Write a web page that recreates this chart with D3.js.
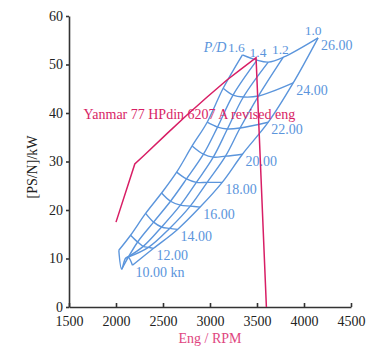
<!DOCTYPE html>
<html>
<head>
<meta charset="utf-8">
<script src="https://cdn.jsdelivr.net/npm/d3@7"></script>
<style>
  body { margin: 0; background: #fff; }
  text { font-family: "Liberation Serif", "DejaVu Serif", serif; }
</style>
</head>
<body>
<div id="canvas"></div>
<script>
// ship speeds (kn) and propeller pitch ratios
const speeds = [10, 12, 14, 16, 18, 20, 22, 24, 26];
const pdValues = [1.6, 1.4, 1.3, 1.2, 1.0];
const pdLabels = ["1.6", "1.4", "", "1.2", "1.0"];

// engine rpm at each speed (rows) for each P/D (columns)
const rpmGrid = [
  [2030, 2060, 2100, 2130, 2175],
  [2155, 2230, 2290, 2345, 2400],
  [2315, 2400, 2485, 2570, 2655],
  [2485, 2580, 2685, 2790, 2895],
  [2645, 2750, 2855, 2970, 3130],
  [2810, 2930, 3035, 3165, 3345],
  [2970, 3080, 3185, 3320, 3620],
  [3140, 3245, 3355, 3515, 3885],
  [3345, 3500, 3620, 3780, 4150]
];
// required power (kW) at the same grid
const powerGrid = [
  [11.7, 7.8, 10.0, 10.3, 8.6],
  [14.8, 13.4, 12.5, 12.3, 12.1],
  [19.3, 17.5, 16.5, 16.2, 16.0],
  [23.5, 21.8, 21.0, 20.8, 20.6],
  [27.8, 26.4, 25.7, 25.7, 25.7],
  [33.2, 31.5, 30.9, 31.1, 31.5],
  [38.1, 37.1, 36.7, 36.9, 38.1],
  [45.1, 43.7, 43.3, 43.5, 46.2],
  [52.0, 50.9, 50.5, 51.5, 55.5]
];

// Yanmar engine curve
const engRpm = [2000, 2200, 2300, 2545, 2755, 2970, 3180, 3320, 3490, 3600];
const engPower = [17.5, 29.5, 31.3, 35.8, 39.6, 43.3, 46.8, 48.9, 51.4, 0];

const xTicks = [1500, 2000, 2500, 3000, 3500, 4000, 4500];
const yTicks = [0, 10, 20, 30, 40, 50, 60];

const blue = "#5b95dc";
const red = "#d81e65";

const width = 385, height = 351;
const svg = d3.select("#canvas").append("svg")
  .attr("width", width)
  .attr("height", height);

const x = d3.scaleLinear().domain([1500, 4500]).range([69, 351]);
const y = d3.scaleLinear().domain([0, 60]).range([307, 16]);

// axes
const xAxis = svg.append("g")
  .attr("transform", `translate(0,${y(0)})`)
  .call(d3.axisBottom(x).tickValues(xTicks).tickFormat(d3.format("d"))
    .tickSize(-4).tickSizeOuter(0).tickPadding(9));
const yAxis = svg.append("g")
  .attr("transform", `translate(${x(1500)},0)`)
  .call(d3.axisLeft(y).tickValues(yTicks).tickSize(3).tickSizeOuter(0).tickPadding(3));

[xAxis, yAxis].forEach(g => {
  g.selectAll("text").attr("font-size", 14).attr("fill", "#222")
    .attr("font-family", "Liberation Serif, serif");
  g.selectAll("path, line").attr("stroke", "#333").attr("stroke-width", 1.6);
});

svg.append("text")
  .attr("x", (x(1500) + x(4500)) / 2)
  .attr("y", 343)
  .attr("text-anchor", "middle")
  .attr("font-size", 14)
  .attr("fill", "#e0457f")
  .text("Eng / RPM");

svg.append("text")
  .attr("transform", "translate(37,167) rotate(-90)")
  .attr("text-anchor", "middle")
  .attr("font-size", 14)
  .attr("fill", "#222")
  .text("[PS/N]/kW");

const grid = svg.append("g")
  .attr("fill", "none")
  .attr("stroke", blue)
  .attr("stroke-width", 1.4);

const smooth = d3.line().x(d => x(d[0])).y(d => y(d[1])).curve(d3.curveCatmullRom);

// constant speed curves
speeds.forEach((s, i) => {
  const pts = pdValues.map((p, j) => [rpmGrid[i][j], powerGrid[i][j]]);
  grid.append("path").attr("d", smooth(pts));
});

// constant P/D curves
pdValues.forEach((p, j) => {
  const pts = speeds.map((s, i) => [rpmGrid[i][j], powerGrid[i][j]]);
  grid.append("path").attr("d", smooth(pts));
});

// speed labels at the P/D 1.0 end
const lastPd = pdValues.length - 1;
svg.selectAll(".speed-label")
  .data(speeds)
  .join("text")
  .attr("class", "speed-label")
  .attr("x", (s, i) => x(rpmGrid[i][lastPd]) + 3)
  .attr("y", (s, i) => y(powerGrid[i][lastPd]) + 12)
  .attr("font-size", 14)
  .attr("fill", blue)
  .text(s => s.toFixed(2) + (s === 10 ? " kn" : ""));

// P/D labels at the top row
const topRow = speeds.length - 1;
const pdShift = [-6, 1, 0, -3, -5];
svg.selectAll(".pd-label")
  .data(pdValues)
  .join("text")
  .attr("class", "pd-label")
  .attr("x", (p, j) => x(rpmGrid[topRow][j]) + pdShift[j])
  .attr("y", (p, j) => y(powerGrid[topRow][j]) - 3)
  .attr("text-anchor", "middle")
  .attr("font-size", 13.5)
  .attr("fill", blue)
  .text((p, j) => pdLabels[j]);

svg.append("text")
  .attr("x", x(rpmGrid[topRow][0]) - 16)
  .attr("y", y(powerGrid[topRow][0]) - 3)
  .attr("text-anchor", "end")
  .attr("font-size", 14)
  .attr("font-style", "italic")
  .attr("fill", blue)
  .text("P/D");

// engine curve
const straight = d3.line().x(d => x(d[0])).y(d => y(d[1]));
svg.append("path")
  .attr("d", straight(engRpm.map((r, i) => [r, engPower[i]])))
  .attr("fill", "none")
  .attr("stroke", red)
  .attr("stroke-width", 1.5);

svg.append("text")
  .attr("x", x(1655))
  .attr("y", y(38.7))
  .attr("font-size", 14)
  .attr("fill", red)
  .text("Yanmar 77 HPdin 6207 A revised eng");
</script>
</body>
</html>
